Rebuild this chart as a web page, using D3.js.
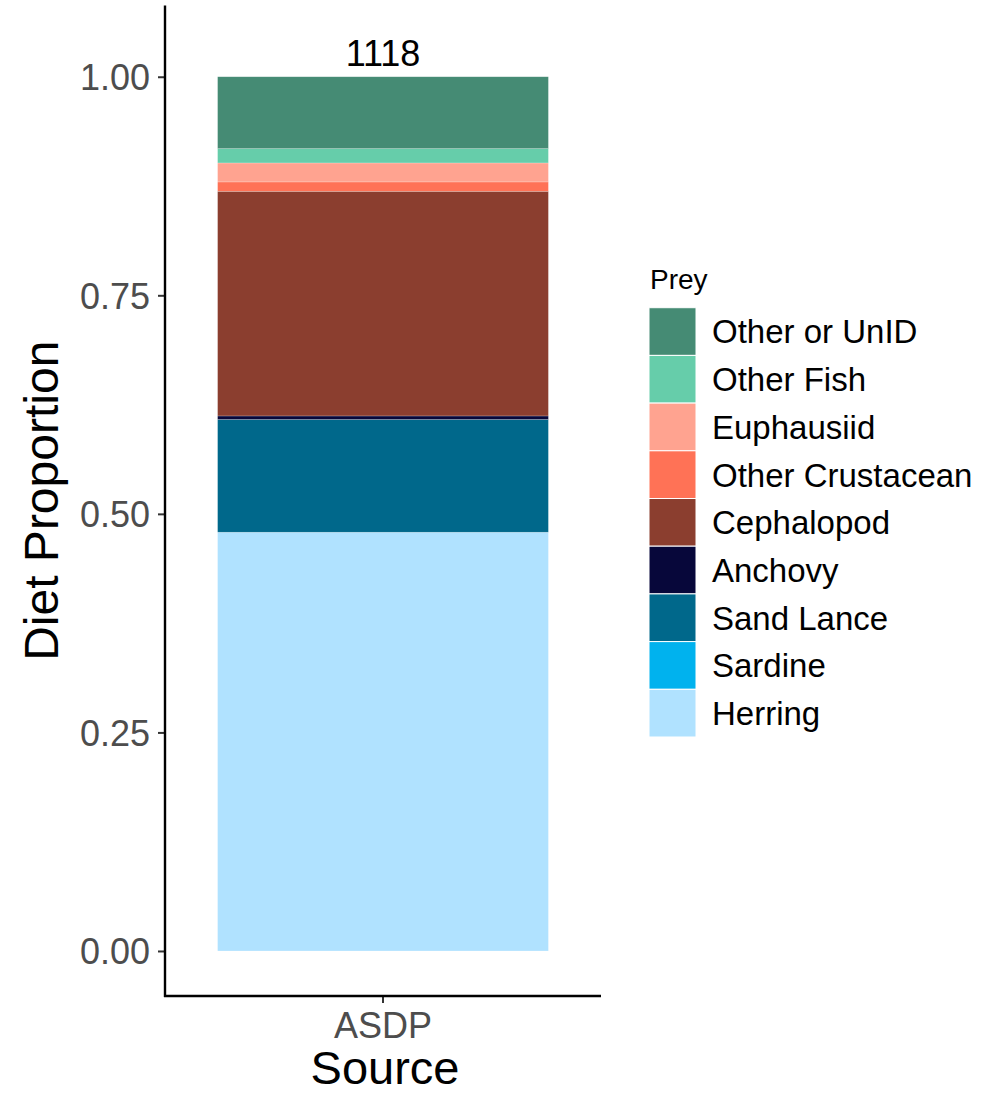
<!DOCTYPE html>
<html>
<head>
<meta charset="utf-8">
<script src="https://cdn.jsdelivr.net/npm/d3@7"></script>
<style>
  html, body { margin: 0; padding: 0; background: #fff; }
  svg { display: block; font-family: "Liberation Sans", Arial, sans-serif; }
</style>
</head>
<body>
<svg id="chart" width="993" height="1094"></svg>
<script>
// ---- data ----
const sources = ["ASDP"];
const sampleSizes = [1118];
// stacking order from bottom to top
const preyBottomUp = ["Herring", "Sardine", "Sand Lance", "Anchovy", "Cephalopod",
                      "Other Crustacean", "Euphausiid", "Other Fish", "Other or UnID"];
const proportions = [0.479, 0.0, 0.129, 0.004, 0.257, 0.0107, 0.0217, 0.0164, 0.0822];
const preyColors = ["#B0E2FF", "#00B2EE", "#00688B", "#07073A", "#8B3E2F",
                    "#FF7256", "#FFA390", "#66CDAA", "#458B74"];
const yTicks = [0, 0.25, 0.5, 0.75, 1.0];

// ---- layout ----
const svg = d3.select("#chart");
const panel = { left: 165, right: 601, top: 5.5, bottom: 996 };

const y = d3.scaleLinear().domain([-0.0515, 1.0815]).range([panel.bottom, panel.top]);
const x = d3.scaleBand().domain(sources).range([panel.left, panel.right])
  .paddingInner(0).paddingOuter(0.159);
const color = d3.scaleOrdinal().domain(preyBottomUp).range(preyColors);

// stacked rows
const row = { source: sources[0] };
preyBottomUp.forEach((p, i) => row[p] = proportions[i]);
const stacked = d3.stack().keys(preyBottomUp)([row]);

const g = svg.append("g");
stacked.forEach(layer => {
  g.selectAll(null).data(layer).enter().append("rect")
    .attr("x", d => x(d.data.source))
    .attr("width", x.bandwidth())
    .attr("y", d => y(d[1]))
    .attr("height", d => Math.max(0, y(d[0]) - y(d[1])))
    .attr("fill", color(layer.key))
    .attr("stroke", layer[0][1] - layer[0][0] > 0 ? "rgba(255,255,255,0.35)" : "none")
    .attr("stroke-width", 0.6);
});

// sample size labels
g.selectAll(null).data(sources).enter().append("text")
  .attr("x", d => x(d) + x.bandwidth() / 2)
  .attr("y", y(1.03))
  .attr("dy", "0.44em")
  .attr("text-anchor", "middle")
  .attr("font-size", 36)
  .attr("fill", "#000")
  .text((d, i) => sampleSizes[i]);

// ---- axes ----
const yAxis = svg.append("g").attr("transform", `translate(${panel.left},0)`)
  .call(d3.axisLeft(y).tickValues(yTicks).tickFormat(d3.format(".2f")).tickSize(7).tickPadding(8));
const xAxis = svg.append("g").attr("transform", `translate(0,${panel.bottom})`)
  .call(d3.axisBottom(x).tickSize(7).tickPadding(9));

[yAxis, xAxis].forEach(ax => {
  ax.select(".domain").remove();
  ax.selectAll(".tick line").attr("stroke", "#333").attr("stroke-width", 2);
  ax.selectAll(".tick text").attr("fill", "#4D4D4D").attr("font-size", 36)
    .attr("font-family", "Liberation Sans, Arial, sans-serif");
});
yAxis.selectAll(".tick text").attr("dy", "0.36em");
xAxis.selectAll(".tick text").attr("dy", "0.72em");

// axis lines
svg.append("line")
  .attr("x1", panel.left).attr("x2", panel.left)
  .attr("y1", panel.top).attr("y2", panel.bottom + 1)
  .attr("stroke", "#000").attr("stroke-width", 2.4);
svg.append("line")
  .attr("x1", panel.left - 1).attr("x2", panel.right)
  .attr("y1", panel.bottom).attr("y2", panel.bottom)
  .attr("stroke", "#000").attr("stroke-width", 2.4);

// axis titles
svg.append("text")
  .attr("x", (panel.left + panel.right) / 2 + 2)
  .attr("y", 1084)
  .attr("text-anchor", "middle")
  .attr("font-size", 47)
  .attr("fill", "#000")
  .text("Source");
svg.append("text")
  .attr("transform", `translate(58,${(panel.top + panel.bottom) / 2}) rotate(-90)`)
  .attr("text-anchor", "middle")
  .attr("font-size", 48)
  .attr("fill", "#000")
  .text("Diet Proportion");

// ---- legend ----
const legendOrder = preyBottomUp.slice().reverse();
const keyH = 47.7, keyW = 47, legX = 649, legY = 307.7;
const leg = svg.append("g");
leg.append("text")
  .attr("x", 650).attr("y", 289)
  .attr("font-size", 28).attr("fill", "#000")
  .text("Prey");
const items = leg.selectAll("g.item").data(legendOrder).enter().append("g")
  .attr("class", "item")
  .attr("transform", (d, i) => `translate(${legX},${legY + i * keyH})`);
items.append("rect")
  .attr("width", keyW).attr("height", keyH)
  .attr("fill", d => color(d))
  .attr("stroke", "#fff").attr("stroke-width", 1);
items.append("text")
  .attr("x", 712 - legX).attr("y", keyH / 2)
  .attr("dy", "0.36em")
  .attr("font-size", 33).attr("fill", "#000")
  .text(d => d);
</script>
</body>
</html>
